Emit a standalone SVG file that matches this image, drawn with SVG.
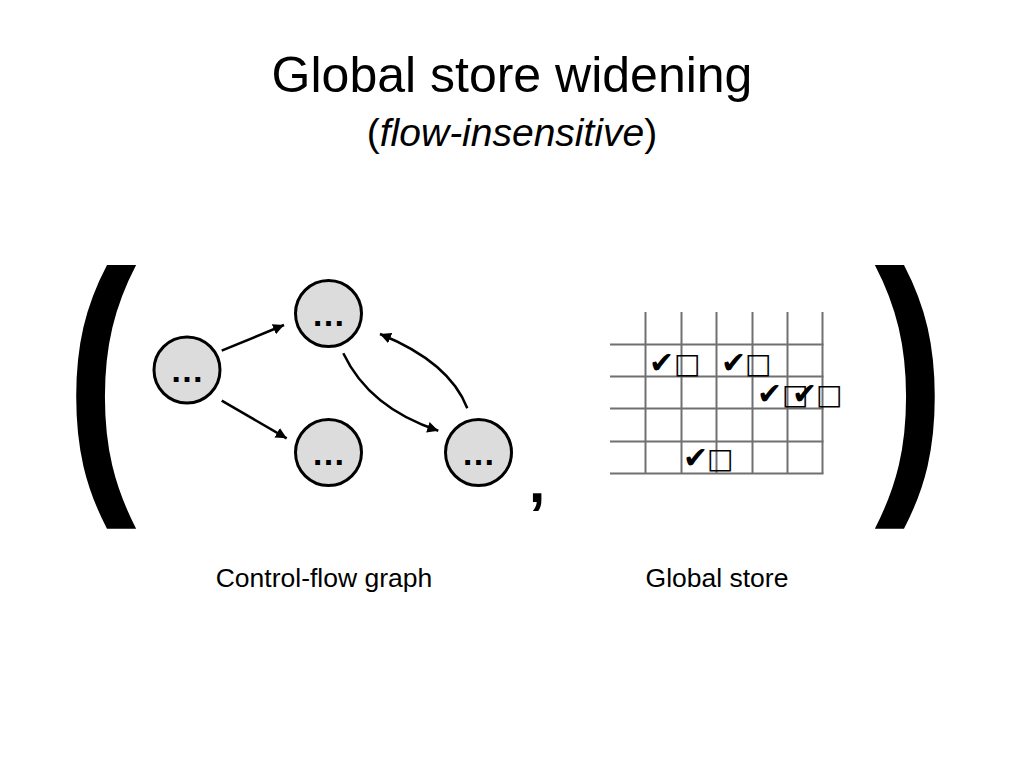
<svg xmlns="http://www.w3.org/2000/svg" width="1024" height="768" viewBox="0 0 1024 768">
<defs>
<style>
.t{font-family:"Liberation Sans",Arial,sans-serif;fill:#000}
.node circle{fill:#dcdcdc;stroke:#000;stroke-width:3}
.node text{font-family:"Liberation Sans",Arial,sans-serif;font-size:34px;font-weight:bold;text-anchor:middle;fill:#000}
.edge{fill:none;stroke:#000;stroke-width:2.5}
.grid line{stroke:#707070;stroke-width:2}
.ck{font-family:"DejaVu Sans",sans-serif;fill:#000}
.ck .c{font-size:30px}
.ck .b{font-size:28px;font-weight:bold}
.br{font-family:"Liberation Sans",Arial,sans-serif;text-anchor:middle;fill:#000}
</style>
<marker id="ah" viewBox="0 0 10 10" refX="10" refY="5" markerWidth="11" markerHeight="11" markerUnits="userSpaceOnUse" orient="auto">
<path d="M0,0 L10,5 L0,10 z" fill="#000"/>
</marker>
</defs>
<rect width="1024" height="768" fill="#fff"/>
<text class="t" x="512" y="92" font-size="50" text-anchor="middle">Global store widening</text>
<text class="t" x="512" y="146" font-size="39" text-anchor="middle">(<tspan font-style="italic">flow-insensitive</tspan>)</text>

<text class="br" x="101" y="470" font-size="283" font-weight="bold" transform="translate(101 0) scale(0.75 1) translate(-101 0)">(</text>
<text class="br" x="910" y="470" font-size="283" font-weight="bold" transform="translate(910 0) scale(0.75 1) translate(-910 0)">)</text>
<text class="br" x="537" y="502" font-size="60" font-weight="bold">,</text>

<g id="edges">
<path class="edge" d="M221.7,350.7 L284,325" marker-end="url(#ah)"/>
<path class="edge" d="M221.7,400.7 L286.7,438.3" marker-end="url(#ah)"/>
<path class="edge" d="M343.3,353.3 Q369.2,408 438.3,430.7" marker-end="url(#ah)"/>
<path class="edge" d="M467.3,408.3 Q449.75,362.25 380,334" marker-end="url(#ah)"/>
</g>
<g id="n1" class="node"><circle cx="187" cy="370" r="33"/><text x="187" y="382">…</text></g>
<g id="n2" class="node"><circle cx="328.5" cy="313.5" r="33"/><text x="328.5" y="325.5">…</text></g>
<g id="n3" class="node"><circle cx="328.5" cy="452.5" r="33"/><text x="328.5" y="464.5">…</text></g>
<g id="n4" class="node"><circle cx="478.5" cy="452.5" r="33"/><text x="478.5" y="464.5">…</text></g>

<g id="store" class="grid">
<line x1="645.5" y1="312" x2="645.5" y2="473.5"/>
<line x1="681.5" y1="312" x2="681.5" y2="473.5"/>
<line x1="716.5" y1="312" x2="716.5" y2="473.5"/>
<line x1="752.5" y1="312" x2="752.5" y2="473.5"/>
<line x1="787.5" y1="312" x2="787.5" y2="473.5"/>
<line x1="822.5" y1="312" x2="822.5" y2="473.5"/>
<line x1="610" y1="344.5" x2="823.5" y2="344.5"/>
<line x1="610" y1="376.5" x2="823.5" y2="376.5"/>
<line x1="610" y1="408.5" x2="823.5" y2="408.5"/>
<line x1="610" y1="441.5" x2="823.5" y2="441.5"/>
<line x1="610" y1="473.5" x2="823.5" y2="473.5"/>
</g>
<g id="marks">
<text class="ck" y="373"><tspan class="c" x="649">✔</tspan><tspan class="b" x="674">□</tspan></text>
<text class="ck" y="373"><tspan class="c" x="721">✔</tspan><tspan class="b" x="745">□</tspan></text>
<text class="ck" y="404"><tspan class="c" x="757">✔</tspan><tspan class="b" x="782">□</tspan></text>
<text class="ck" y="404"><tspan class="c" x="792">✔</tspan><tspan class="b" x="816">□</tspan></text>
<text class="ck" y="468"><tspan class="c" x="683">✔</tspan><tspan class="b" x="707">□</tspan></text>
</g>

<text class="t" x="324" y="587" font-size="26.5" text-anchor="middle">Control-flow graph</text>
<text class="t" x="717" y="587" font-size="26.5" text-anchor="middle">Global store</text>
</svg>
